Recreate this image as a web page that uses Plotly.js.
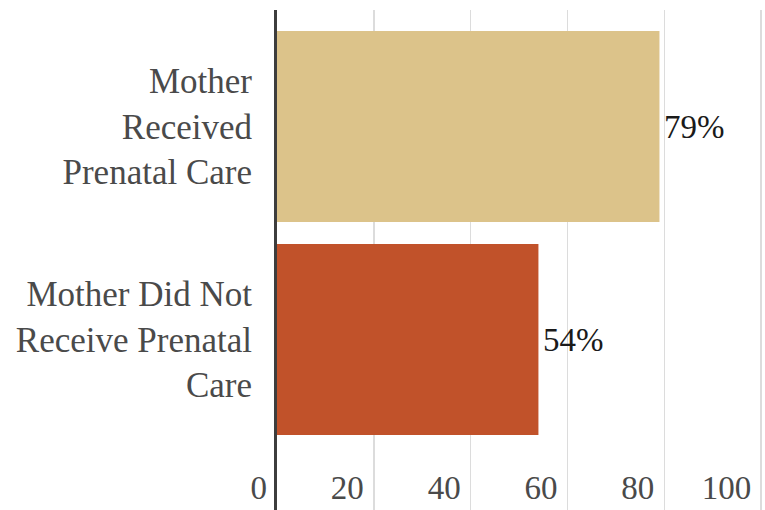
<!DOCTYPE html>
<html>
<head>
<meta charset="utf-8">
<script src="https://cdn.plot.ly/plotly-3.0.1.min.js"></script>
<style>
  html, body { margin: 0; padding: 0; background: #ffffff; }
  #chart { width: 765px; height: 510px; }
</style>
</head>
<body>
<div id="chart"></div>
<script>
// Share of births, by whether the mother received prenatal care
const categories = [
  'Mother<br>Received<br>Prenatal Care',
  'Mother Did Not<br>Receive Prenatal<br>Care'
];
const values = [79, 54];
const barColors = ['#DCC38A', '#C1522A'];
const xTickValues = [0, 20, 40, 60, 80, 100];
const xTickLabels = ['0', '20', '40', '60', '80', '100'];

const serif = 'Liberation Serif';

const trace = {
  type: 'bar',
  orientation: 'h',
  y: categories,
  x: values,
  marker: { color: barColors, line: { width: 0 } },
  hoverinfo: 'none'
};

// value labels placed just past the end of each bar
const valueLabels = values.map((v, i) => ({
  xref: 'x',
  yref: 'y',
  x: v,
  y: categories[i],
  text: v + '%',
  showarrow: false,
  xanchor: 'left',
  yanchor: 'middle',
  xshift: 3,
  font: { family: serif, size: 33, color: '#1a1a1a' }
}));

const layout = {
  width: 765,
  height: 510,
  margin: { l: 277, r: 0, t: 10, b: 0 },
  paper_bgcolor: '#ffffff',
  plot_bgcolor: '#ffffff',
  font: { family: serif },
  showlegend: false,
  bargap: 0.103,
  annotations: valueLabels,
  xaxis: {
    range: [0, 100.8],
    tickvals: xTickValues,
    ticktext: xTickLabels,
    anchor: 'free',
    position: 0.09,
    ticks: '',
    showline: false,
    zeroline: false,
    showgrid: true,
    gridcolor: '#dcdcdc',
    gridwidth: 1.5,
    ticklabelposition: 'outside left',
    ticklabelshift: -10,
    tickfont: { family: serif, size: 33, color: '#4a4a4a' },
    fixedrange: true
  },
  yaxis: {
    type: 'category',
    range: [1.8, -0.547],
    showgrid: false,
    zeroline: false,
    showline: true,
    linecolor: '#3d3d3d',
    linewidth: 3,
    ticks: '',
    ticklabelstandoff: 15,
    tickfont: { family: serif, size: 35, color: '#4a4a4a' },
    fixedrange: true
  }
};

Plotly.newPlot('chart', [trace], layout, { displayModeBar: false, staticPlot: true });
</script>
</body>
</html>
